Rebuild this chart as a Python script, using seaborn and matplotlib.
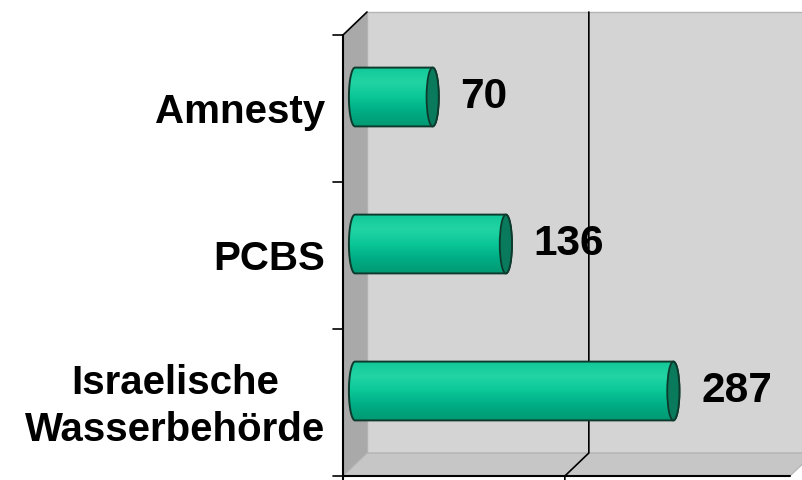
import numpy as np
import pandas as pd
import matplotlib
matplotlib.use("Agg")
import matplotlib.pyplot as plt
import matplotlib.transforms as mtransforms
import seaborn as sns
from matplotlib.patches import Polygon, Ellipse
from matplotlib.colors import LinearSegmentedColormap

# --- Daten ---
quellen = ["Amnesty", "PCBS", "Israelische\nWasserbehörde"]
werte = [70, 136, 287]
x_min, x_max = -12, 403
gitter_werte = [200]

df = pd.DataFrame({"Quelle": quellen, "Wert": werte})

sns.set_theme(style="white")
plt.rcParams['font.family'] = ['Liberation Sans', 'DejaVu Sans']

W, H = 802, 480
fig = plt.figure(figsize=(W / 100, H / 100), dpi=100)
fig.patch.set_facecolor('white')

# Ebene in der Mitte der 3D-Box, auf der die Balken liegen (Pixel)
ax_l, ax_r, ax_t, ax_b = 341.7, 802, 23.5, 464.5
tiefe_x, tiefe_y = 12, 11.5  # halbe Tiefe der Box

deko = fig.add_axes([0, 0, 1, 1], zorder=0)
deko.set_xlim(0, W)
deko.set_ylim(H, 0)
deko.axis('off')

ax = fig.add_axes([ax_l / W, 1 - ax_b / H, (ax_r - ax_l) / W, (ax_b - ax_t) / H], zorder=1)
ax.patch.set_alpha(0)

sns.barplot(data=df, x="Wert", y="Quelle", orient='h', width=0.4,
            color='#00C896', edgecolor='none', ax=ax)
ax.set_xlim(x_min, x_max)
ax.set_ylim(len(quellen) - 0.5, -0.5)
ax.axis('off')


def px(x, y):
    dx, dy = ax.transData.transform((x, y))
    return dx, H - dy


# --- 3D-Box (Wände + Boden) ---
x0m = px(0, 0)[0]
front_l, back_l = x0m - tiefe_x, x0m + tiefe_x
top_f, top_b = ax_t + tiefe_y, ax_t - tiefe_y
bot_f, bot_b = ax_b + tiefe_y, ax_b - tiefe_y
xr_front = px(x_max, 0)[0] - tiefe_x

deko.add_patch(Polygon([(back_l, top_b), (W + 5, top_b), (W + 5, bot_b), (back_l, bot_b)],
                       closed=True, fc='#D4D4D4', ec='#B4B4B4', lw=1))
deko.add_patch(Polygon([(front_l, top_f), (back_l, top_b), (back_l, bot_b), (front_l, bot_f)],
                       closed=True, fc='#A9A9A9', ec='none'))
deko.add_patch(Polygon([(front_l, bot_f), (back_l, bot_b), (W + 5, bot_b),
                        (W + 5, bot_f - tiefe_y * (W + 5 - xr_front) / tiefe_x),
                        (xr_front, bot_f)],
                       closed=True, fc='#C6C6C6', ec='#B0B0B0', lw=0.8))

# Gitterlinie
for g in gitter_werte:
    gx = px(g, 0)[0]
    deko.plot([gx + tiefe_x, gx + tiefe_x, gx - tiefe_x, gx - tiefe_x],
              [top_b, bot_b, bot_f, H], color='black', lw=1.2)

# Achsen vorne
deko.plot([front_l, front_l], [top_f, H], color='black', lw=1.5)
deko.plot([front_l, back_l], [top_f, top_b], color='black', lw=1.2)
deko.plot([front_l, xr_front], [bot_f, bot_f], color='black', lw=1.5)
for k in range(len(quellen) + 1):
    ty = px(0, k - 0.5)[1] + tiefe_y
    deko.plot([front_l - 10, front_l], [ty, ty], color='black', lw=1.2)

# --- Zylinder-Balken ---
verlauf = LinearSegmentedColormap.from_list(
    'zyl', ['#12C898', '#22D4A4', '#0BC798', '#00AD84', '#009A74'])
rx = 5.5
for p in list(ax.patches):
    x0, y0 = p.get_x(), p.get_y()
    w, h = p.get_width(), p.get_height()
    x1, yc = x0 + w, y0 + h / 2
    t_l = np.linspace(np.pi / 2, 3 * np.pi / 2, 40)
    t_r = np.linspace(-np.pi / 2, np.pi / 2, 40)
    verts = np.vstack([
        np.column_stack([x0 + rx * np.cos(t_l), yc + h / 2 * np.sin(t_l)]),
        np.column_stack([x1 + rx * np.cos(t_r), yc + h / 2 * np.sin(t_r)]),
    ])
    p.set_visible(False)
    form = Polygon(verts, closed=True, fc='none', ec='#0D3A2C', lw=1.4, zorder=4)
    ax.add_patch(form)
    im = ax.imshow(np.linspace(0, 1, 100).reshape(-1, 1), cmap=verlauf, aspect='auto',
                   extent=(x0 - rx, x1 + rx, y0 + h, y0), origin='upper', zorder=3)
    im.set_clip_path(form)
    ax.add_patch(Ellipse((x1, yc), 2 * rx, h, fc='#0A7A5C', ec='#0D3A2C', lw=1.3, zorder=5))

ax.set_xlim(x_min, x_max)
ax.set_ylim(len(quellen) - 0.5, -0.5)

ax.bar_label(ax.containers[0], fmt='%g', padding=20, fontsize=30.5,
             fontweight='bold', color='black')

versatz = mtransforms.ScaledTranslation(-30 / 100, -15 / 100, fig.dpi_scale_trans)
for i, q in enumerate(quellen):
    ax.text(0, i, q, transform=ax.transData + versatz,
            ha='right', va='center', multialignment='center',
            fontsize=29, fontweight='bold', color='black', linespacing=1.3)

fig.savefig('out.png', dpi=100, facecolor='white')
